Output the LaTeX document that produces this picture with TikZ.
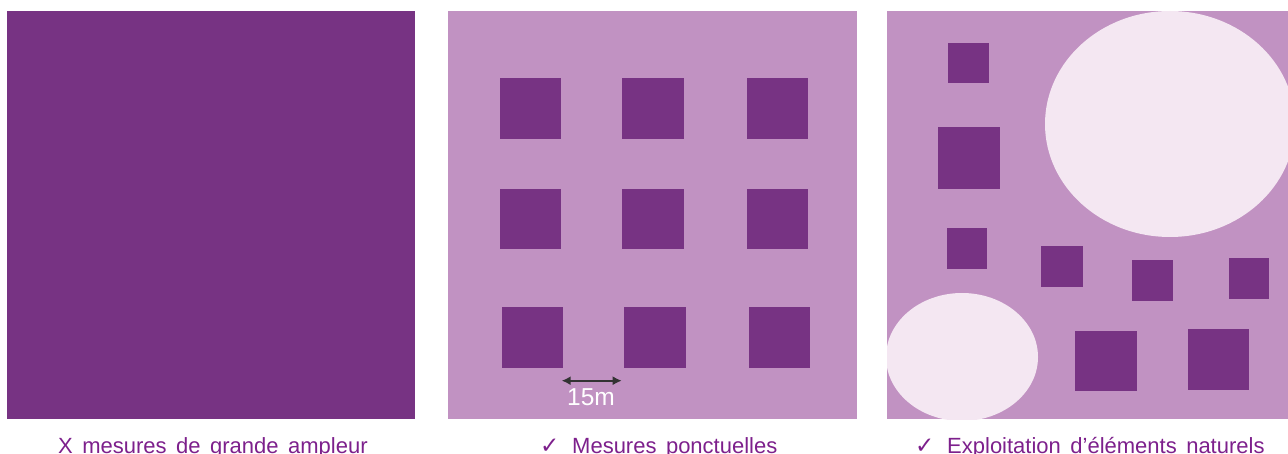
\documentclass[tikz,border=0pt]{standalone}
\usepackage{fontspec}
\setmainfont{Liberation Sans}
\newfontfamily\checkfont{DejaVu Sans}
\usetikzlibrary{arrows.meta}
\definecolor{darkplum}{RGB}{119,51,131}
\definecolor{lightplum}{RGB}{193,146,194}
\definecolor{paleplum}{RGB}{244,231,242}
\definecolor{captionplum}{RGB}{125,32,140}
\newcommand\captionfont{\fontsize{22}{26}\selectfont\spaceskip=9.5pt\relax}
\newcommand\tick{\makebox[15pt][l]{\checkfont\fontsize{23}{26}\selectfont ✓}\hspace{17pt}}
\tikzset{
  caption/.style={anchor=base west,inner sep=0pt,text=captionplum,
    font=\captionfont},
  plot/.style={fill=darkplum}
}

\begin{document}
\begin{tikzpicture}[x=1pt,y=-1pt]
          \useasboundingbox (0,0) rectangle (1288,454);
          % left panel
          \fill[darkplum] (7,11) rectangle (415,419);
          % middle panel
          \fill[lightplum] (448.3,11) rectangle (856.7,418.7);
          \fill[plot] (499.7,78.3) rectangle (561.3,138.7);
          \fill[plot] (622,78.3) rectangle (683.7,138.7);
          \fill[plot] (746.7,78.3) rectangle (807.7,138.7);
          \fill[plot] (499.7,189) rectangle (561.3,249.3);
          \fill[plot] (622,189) rectangle (683.7,249.3);
          \fill[plot] (746.7,189) rectangle (807.7,249.3);
          \fill[plot] (502.3,306.7) rectangle (563.3,368);
          \fill[plot] (624.3,306.7) rectangle (685.7,368);
          \fill[plot] (749,306.7) rectangle (809.7,368);
          \coordinate (gapl) at (561.7,380.7);
          \coordinate (gapr) at (621.7,380.7);
          \draw[{Latex[length=9pt,width=9pt]}-{Latex[length=9pt,width=9pt]},
            line width=1.6pt,black!80] (gapl) -- (gapr);
          \node[anchor=base,inner sep=0pt,text=white,
            font=\fontsize{24.5}{28}\selectfont] (gaplabel) at (591,405) {15m};
          % right panel
          \fill[lightplum] (887,11) rectangle (1288,419.3);
          \begin{scope}
            \clip (887,11) rectangle (1288,419.3);
            \fill[paleplum] (1170,124) ellipse [x radius=125,y radius=113];
            \fill[paleplum] (962,357) ellipse [x radius=76,y radius=64];
          \end{scope}
          \fill[plot] (948.3,42.7) rectangle (989.3,83.3);
          \fill[plot] (938.3,127.3) rectangle (1000,188.7);
          \fill[plot] (946.7,228.3) rectangle (987.3,268.7);
          \fill[plot] (1041.3,246.3) rectangle (1082.7,287);
          \fill[plot] (1132,260) rectangle (1172.7,300.7);
          \fill[plot] (1228.7,257.7) rectangle (1269.3,298.7);
          \fill[plot] (1075,330.7) rectangle (1136.7,391);
          \fill[plot] (1188,328.7) rectangle (1248.7,390);
          % captions
          \node[caption] (capfull) at (58,453) {X mesures de grande ampleur};
          \node[caption] (cappoint) at (540,453) {\tick Mesures ponctuelles};
          \node[caption] (capnature) at (915,453)
            {\tick Exploitation d’éléments naturels};
        \end{tikzpicture}
\end{document}
